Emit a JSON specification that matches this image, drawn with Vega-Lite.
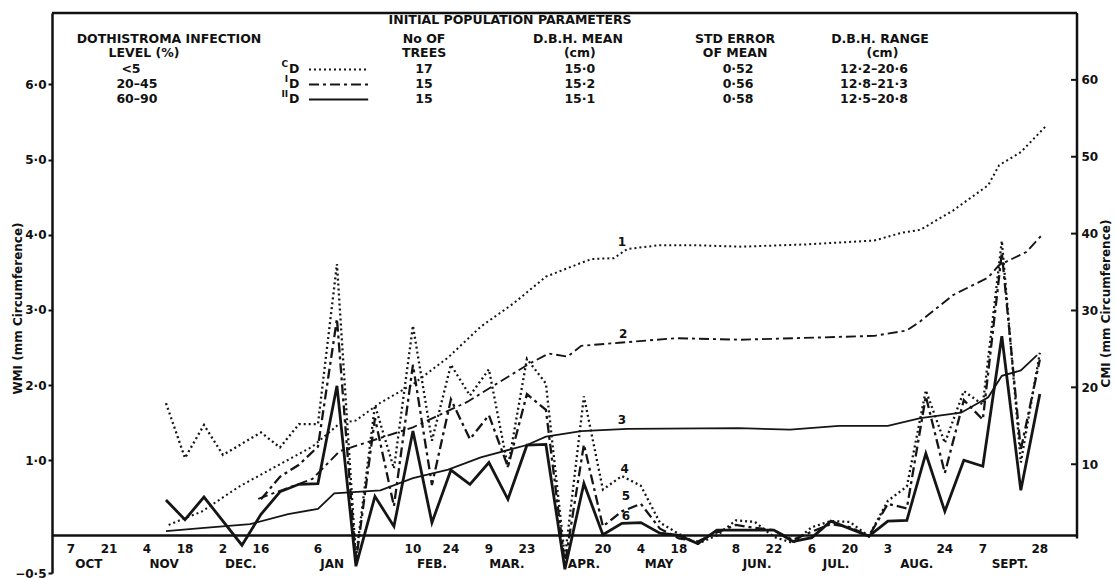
{
  "$schema": "https://vega.github.io/schema/vega-lite/v6.json",
  "width": 1025,
  "height": 560,
  "autosize": "none",
  "padding": {"left": 52, "top": 13, "right": 39, "bottom": 6},
  "background": "white",
  "config": {"view": {"stroke": null}, "font": "DejaVu Sans"},
  "datasets": {
    "wmi": [
      {"day": 42, "treatment": "CD", "WMI": 1.76}, {"day": 49, "treatment": "CD", "WMI": 1.03}, {"day": 56, "treatment": "CD", "WMI": 1.47}, {"day": 63, "treatment": "CD", "WMI": 1.07}, {"day": 77, "treatment": "CD", "WMI": 1.37}, {"day": 84, "treatment": "CD", "WMI": 1.17}, {"day": 91, "treatment": "CD", "WMI": 1.48}, {"day": 98, "treatment": "CD", "WMI": 1.48}, {"day": 105, "treatment": "CD", "WMI": 3.61}, {"day": 112, "treatment": "CD", "WMI": -0.30}, {"day": 119, "treatment": "CD", "WMI": 1.73}, {"day": 126, "treatment": "CD", "WMI": 0.89}, {"day": 133, "treatment": "CD", "WMI": 2.79}, {"day": 140, "treatment": "CD", "WMI": 1.26}, {"day": 147, "treatment": "CD", "WMI": 2.27}, {"day": 154, "treatment": "CD", "WMI": 1.86}, {"day": 161, "treatment": "CD", "WMI": 2.21}, {"day": 168, "treatment": "CD", "WMI": 0.91}, {"day": 175, "treatment": "CD", "WMI": 2.35}, {"day": 182, "treatment": "CD", "WMI": 2.02}, {"day": 189, "treatment": "CD", "WMI": -0.30}, {"day": 196, "treatment": "CD", "WMI": 1.85}, {"day": 203, "treatment": "CD", "WMI": 0.61}, {"day": 210, "treatment": "CD", "WMI": 0.79}, {"day": 217, "treatment": "CD", "WMI": 0.66}, {"day": 224, "treatment": "CD", "WMI": 0.17}, {"day": 231, "treatment": "CD", "WMI": 0.02}, {"day": 238, "treatment": "CD", "WMI": -0.11}, {"day": 245, "treatment": "CD", "WMI": 0.00}, {"day": 252, "treatment": "CD", "WMI": 0.20}, {"day": 259, "treatment": "CD", "WMI": 0.18}, {"day": 266, "treatment": "CD", "WMI": -0.02}, {"day": 273, "treatment": "CD", "WMI": -0.10}, {"day": 280, "treatment": "CD", "WMI": 0.11}, {"day": 287, "treatment": "CD", "WMI": 0.19}, {"day": 294, "treatment": "CD", "WMI": 0.18}, {"day": 301, "treatment": "CD", "WMI": -0.01}, {"day": 308, "treatment": "CD", "WMI": 0.46}, {"day": 315, "treatment": "CD", "WMI": 0.65}, {"day": 322, "treatment": "CD", "WMI": 1.93}, {"day": 329, "treatment": "CD", "WMI": 1.23}, {"day": 336, "treatment": "CD", "WMI": 1.92}, {"day": 343, "treatment": "CD", "WMI": 1.74}, {"day": 350, "treatment": "CD", "WMI": 3.92}, {"day": 357, "treatment": "CD", "WMI": 0.97}, {"day": 364, "treatment": "CD", "WMI": 2.43},
      {"day": 77, "treatment": "ID", "WMI": 0.48}, {"day": 84, "treatment": "ID", "WMI": 0.78}, {"day": 91, "treatment": "ID", "WMI": 0.94}, {"day": 98, "treatment": "ID", "WMI": 1.18}, {"day": 105, "treatment": "ID", "WMI": 2.88}, {"day": 112, "treatment": "ID", "WMI": -0.35}, {"day": 119, "treatment": "ID", "WMI": 1.56}, {"day": 126, "treatment": "ID", "WMI": 0.39}, {"day": 133, "treatment": "ID", "WMI": 2.27}, {"day": 140, "treatment": "ID", "WMI": 0.67}, {"day": 147, "treatment": "ID", "WMI": 1.81}, {"day": 154, "treatment": "ID", "WMI": 1.28}, {"day": 161, "treatment": "ID", "WMI": 1.60}, {"day": 168, "treatment": "ID", "WMI": 0.91}, {"day": 175, "treatment": "ID", "WMI": 1.88}, {"day": 182, "treatment": "ID", "WMI": 1.67}, {"day": 189, "treatment": "ID", "WMI": -0.38}, {"day": 196, "treatment": "ID", "WMI": 1.21}, {"day": 203, "treatment": "ID", "WMI": 0.12}, {"day": 210, "treatment": "ID", "WMI": 0.32}, {"day": 217, "treatment": "ID", "WMI": 0.42}, {"day": 224, "treatment": "ID", "WMI": 0.09}, {"day": 231, "treatment": "ID", "WMI": -0.04}, {"day": 238, "treatment": "ID", "WMI": -0.08}, {"day": 245, "treatment": "ID", "WMI": 0.04}, {"day": 252, "treatment": "ID", "WMI": 0.14}, {"day": 259, "treatment": "ID", "WMI": 0.10}, {"day": 266, "treatment": "ID", "WMI": 0.07}, {"day": 273, "treatment": "ID", "WMI": -0.06}, {"day": 280, "treatment": "ID", "WMI": 0.05}, {"day": 287, "treatment": "ID", "WMI": 0.15}, {"day": 294, "treatment": "ID", "WMI": 0.11}, {"day": 301, "treatment": "ID", "WMI": -0.01}, {"day": 308, "treatment": "ID", "WMI": 0.42}, {"day": 315, "treatment": "ID", "WMI": 0.36}, {"day": 322, "treatment": "ID", "WMI": 1.85}, {"day": 329, "treatment": "ID", "WMI": 0.83}, {"day": 336, "treatment": "ID", "WMI": 1.80}, {"day": 343, "treatment": "ID", "WMI": 1.54}, {"day": 350, "treatment": "ID", "WMI": 3.76}, {"day": 357, "treatment": "ID", "WMI": 1.14}, {"day": 364, "treatment": "ID", "WMI": 2.34},
      {"day": 42, "treatment": "IID", "WMI": 0.47}, {"day": 49, "treatment": "IID", "WMI": 0.21}, {"day": 56, "treatment": "IID", "WMI": 0.51}, {"day": 70, "treatment": "IID", "WMI": -0.13}, {"day": 77, "treatment": "IID", "WMI": 0.28}, {"day": 84, "treatment": "IID", "WMI": 0.58}, {"day": 91, "treatment": "IID", "WMI": 0.68}, {"day": 98, "treatment": "IID", "WMI": 0.69}, {"day": 105, "treatment": "IID", "WMI": 1.99}, {"day": 112, "treatment": "IID", "WMI": -0.41}, {"day": 119, "treatment": "IID", "WMI": 0.52}, {"day": 126, "treatment": "IID", "WMI": 0.12}, {"day": 133, "treatment": "IID", "WMI": 1.39}, {"day": 140, "treatment": "IID", "WMI": 0.17}, {"day": 147, "treatment": "IID", "WMI": 0.87}, {"day": 154, "treatment": "IID", "WMI": 0.68}, {"day": 161, "treatment": "IID", "WMI": 0.97}, {"day": 168, "treatment": "IID", "WMI": 0.48}, {"day": 175, "treatment": "IID", "WMI": 1.20}, {"day": 182, "treatment": "IID", "WMI": 1.21}, {"day": 189, "treatment": "IID", "WMI": -0.45}, {"day": 196, "treatment": "IID", "WMI": 0.69}, {"day": 203, "treatment": "IID", "WMI": 0.01}, {"day": 210, "treatment": "IID", "WMI": 0.16}, {"day": 217, "treatment": "IID", "WMI": 0.17}, {"day": 224, "treatment": "IID", "WMI": 0.03}, {"day": 231, "treatment": "IID", "WMI": 0.00}, {"day": 238, "treatment": "IID", "WMI": -0.11}, {"day": 245, "treatment": "IID", "WMI": 0.07}, {"day": 252, "treatment": "IID", "WMI": 0.07}, {"day": 259, "treatment": "IID", "WMI": 0.07}, {"day": 266, "treatment": "IID", "WMI": 0.07}, {"day": 273, "treatment": "IID", "WMI": -0.08}, {"day": 280, "treatment": "IID", "WMI": -0.03}, {"day": 287, "treatment": "IID", "WMI": 0.19}, {"day": 294, "treatment": "IID", "WMI": 0.09}, {"day": 301, "treatment": "IID", "WMI": -0.01}, {"day": 308, "treatment": "IID", "WMI": 0.19}, {"day": 315, "treatment": "IID", "WMI": 0.20}, {"day": 322, "treatment": "IID", "WMI": 1.09}, {"day": 329, "treatment": "IID", "WMI": 0.32}, {"day": 336, "treatment": "IID", "WMI": 1.00}, {"day": 343, "treatment": "IID", "WMI": 0.92}, {"day": 350, "treatment": "IID", "WMI": 2.65}, {"day": 357, "treatment": "IID", "WMI": 0.60}, {"day": 364, "treatment": "IID", "WMI": 1.88}
    ],
    "cmi": [
      {"day": 43, "treatment": "CD", "CMI": 2.1}, {"day": 49, "treatment": "CD", "CMI": 3.0}, {"day": 55, "treatment": "CD", "CMI": 3.8}, {"day": 69, "treatment": "CD", "CMI": 7.1}, {"day": 84, "treatment": "CD", "CMI": 10.0}, {"day": 96, "treatment": "CD", "CMI": 12.3}, {"day": 106, "treatment": "CD", "CMI": 15.3}, {"day": 112, "treatment": "CD", "CMI": 15.7}, {"day": 121, "treatment": "CD", "CMI": 18.0}, {"day": 133, "treatment": "CD", "CMI": 20.4}, {"day": 146, "treatment": "CD", "CMI": 23.9}, {"day": 158, "treatment": "CD", "CMI": 27.9}, {"day": 170, "treatment": "CD", "CMI": 30.9}, {"day": 182, "treatment": "CD", "CMI": 34.4}, {"day": 195, "treatment": "CD", "CMI": 36.2}, {"day": 199, "treatment": "CD", "CMI": 36.7}, {"day": 207, "treatment": "CD", "CMI": 36.8}, {"day": 212, "treatment": "CD", "CMI": 38.0}, {"day": 224, "treatment": "CD", "CMI": 38.5}, {"day": 236, "treatment": "CD", "CMI": 38.5}, {"day": 254, "treatment": "CD", "CMI": 38.3}, {"day": 278, "treatment": "CD", "CMI": 38.6}, {"day": 303, "treatment": "CD", "CMI": 39.1}, {"day": 313, "treatment": "CD", "CMI": 40.1}, {"day": 320, "treatment": "CD", "CMI": 40.5}, {"day": 332, "treatment": "CD", "CMI": 43.0}, {"day": 345, "treatment": "CD", "CMI": 46.3}, {"day": 349, "treatment": "CD", "CMI": 48.9}, {"day": 357, "treatment": "CD", "CMI": 50.6}, {"day": 366, "treatment": "CD", "CMI": 53.9},
      {"day": 76, "treatment": "ID", "CMI": 5.5}, {"day": 96, "treatment": "ID", "CMI": 8.1}, {"day": 106, "treatment": "ID", "CMI": 11.7}, {"day": 133, "treatment": "ID", "CMI": 14.8}, {"day": 153, "treatment": "ID", "CMI": 18.1}, {"day": 164, "treatment": "ID", "CMI": 20.5}, {"day": 176, "treatment": "ID", "CMI": 23.1}, {"day": 183, "treatment": "ID", "CMI": 24.4}, {"day": 190, "treatment": "ID", "CMI": 24.0}, {"day": 195, "treatment": "ID", "CMI": 25.4}, {"day": 209, "treatment": "ID", "CMI": 25.8}, {"day": 230, "treatment": "ID", "CMI": 26.4}, {"day": 254, "treatment": "ID", "CMI": 26.2}, {"day": 284, "treatment": "ID", "CMI": 26.5}, {"day": 303, "treatment": "ID", "CMI": 26.7}, {"day": 315, "treatment": "ID", "CMI": 27.4}, {"day": 320, "treatment": "ID", "CMI": 28.6}, {"day": 332, "treatment": "ID", "CMI": 32.0}, {"day": 345, "treatment": "ID", "CMI": 34.3}, {"day": 349, "treatment": "ID", "CMI": 35.9}, {"day": 359, "treatment": "ID", "CMI": 37.6}, {"day": 365, "treatment": "ID", "CMI": 39.9},
      {"day": 42, "treatment": "IID", "CMI": 1.3}, {"day": 55, "treatment": "IID", "CMI": 1.7}, {"day": 73, "treatment": "IID", "CMI": 2.2}, {"day": 87, "treatment": "IID", "CMI": 3.5}, {"day": 98, "treatment": "IID", "CMI": 4.2}, {"day": 104, "treatment": "IID", "CMI": 6.2}, {"day": 121, "treatment": "IID", "CMI": 6.6}, {"day": 133, "treatment": "IID", "CMI": 8.2}, {"day": 146, "treatment": "IID", "CMI": 9.3}, {"day": 158, "treatment": "IID", "CMI": 10.9}, {"day": 175, "treatment": "IID", "CMI": 12.5}, {"day": 182, "treatment": "IID", "CMI": 13.6}, {"day": 195, "treatment": "IID", "CMI": 14.3}, {"day": 212, "treatment": "IID", "CMI": 14.6}, {"day": 253, "treatment": "IID", "CMI": 14.7}, {"day": 272, "treatment": "IID", "CMI": 14.5}, {"day": 290, "treatment": "IID", "CMI": 15.0}, {"day": 308, "treatment": "IID", "CMI": 15.0}, {"day": 320, "treatment": "IID", "CMI": 16.0}, {"day": 335, "treatment": "IID", "CMI": 16.7}, {"day": 345, "treatment": "IID", "CMI": 18.7}, {"day": 350, "treatment": "IID", "CMI": 21.5}, {"day": 357, "treatment": "IID", "CMI": 22.2}, {"day": 363, "treatment": "IID", "CMI": 24.2}
    ],
    "cmiticks": [{"CMI": 10}, {"CMI": 20}, {"CMI": 30}, {"CMI": 40}, {"CMI": 50}, {"CMI": 60}],
    "daylabels": [
      {"day": 7, "label": "7"}, {"day": 21, "label": "21"}, {"day": 35, "label": "4"}, {"day": 49, "label": "18"}, {"day": 63, "label": "2"}, {"day": 77, "label": "16"}, {"day": 98, "label": "6"}, {"day": 133, "label": "10"}, {"day": 147, "label": "24"}, {"day": 161, "label": "9"}, {"day": 175, "label": "23"}, {"day": 203, "label": "20"}, {"day": 217, "label": "4"}, {"day": 231, "label": "18"}, {"day": 252, "label": "8"}, {"day": 266, "label": "22"}, {"day": 280, "label": "6"}, {"day": 294, "label": "20"}, {"day": 308, "label": "3"}, {"day": 329, "label": "24"}, {"day": 343, "label": "7"}, {"day": 364, "label": "28"}
    ],
    "months": [
      {"day": 13.6, "label": "OCT"}, {"day": 41.3, "label": "NOV"}, {"day": 69.6, "label": "DEC."}, {"day": 103.2, "label": "JAN"}, {"day": 140, "label": "FEB."}, {"day": 167.6, "label": "MAR."}, {"day": 196, "label": "APR."}, {"day": 223.7, "label": "MAY"}, {"day": 259.8, "label": "JUN."}, {"day": 288.9, "label": "JUL."}, {"day": 318.7, "label": "AUG."}, {"day": 353, "label": "SEPT."}
    ],
    "curvelabels": [
      {"day": 210, "wmi": 3.91, "label": "1"}, {"day": 210.5, "wmi": 2.68, "label": "2"}, {"day": 210, "wmi": 1.54, "label": "3"}, {"day": 211, "wmi": 0.88, "label": "4"}, {"day": 211.5, "wmi": 0.52, "label": "5"}, {"day": 211.5, "wmi": 0.26, "label": "6"}
    ],
    "headertext": [
      {"text": "INITIAL POPULATION PARAMETERS", "day": 168.8, "wmi": 6.86},
      {"text": "DOTHISTROMA INFECTION", "day": 43.1, "wmi": 6.61},
      {"text": "LEVEL (%)", "day": 33.9, "wmi": 6.42},
      {"text": "<5", "day": 29.1, "wmi": 6.20},
      {"text": "20–45", "day": 31.3, "wmi": 6.00},
      {"text": "60–90", "day": 31.3, "wmi": 5.80},
      {"text": "No OF", "day": 137.1, "wmi": 6.61},
      {"text": "TREES", "day": 137.1, "wmi": 6.42},
      {"text": "17", "day": 137.1, "wmi": 6.20},
      {"text": "15", "day": 137.1, "wmi": 6.00},
      {"text": "15", "day": 137.1, "wmi": 5.80},
      {"text": "D.B.H. MEAN", "day": 193.8, "wmi": 6.61},
      {"text": "(cm)", "day": 194.5, "wmi": 6.42},
      {"text": "15·0", "day": 194.5, "wmi": 6.20},
      {"text": "15·2", "day": 194.5, "wmi": 6.00},
      {"text": "15·1", "day": 194.5, "wmi": 5.80},
      {"text": "STD ERROR", "day": 251.7, "wmi": 6.61},
      {"text": "OF MEAN", "day": 251.7, "wmi": 6.42},
      {"text": "0·52", "day": 252.8, "wmi": 6.20},
      {"text": "0·56", "day": 252.8, "wmi": 6.00},
      {"text": "0·58", "day": 252.8, "wmi": 5.80},
      {"text": "D.B.H. RANGE", "day": 305.1, "wmi": 6.61},
      {"text": "(cm)", "day": 306, "wmi": 6.42},
      {"text": "12·2–20·6", "day": 302.9, "wmi": 6.20},
      {"text": "12·8–21·3", "day": 302.9, "wmi": 6.00},
      {"text": "12·5–20·8", "day": 302.9, "wmi": 5.80}
    ],
    "keyrows": [
      {"treatment": "CD", "prefix": "C", "day": 87.0, "lineStart": 94.7, "lineEnd": 116.5, "wmi": 6.20},
      {"treatment": "ID", "prefix": "I", "day": 87.0, "lineStart": 94.7, "lineEnd": 116.5, "wmi": 6.00},
      {"treatment": "IID", "prefix": "II", "day": 87.0, "lineStart": 94.7, "lineEnd": 116.5, "wmi": 5.80}
    ],
    "frame": [
      {"day": 0, "day2": 377.7, "wmi": 0, "wmi2": 0},
      {"day": 0, "day2": 377.7, "wmi": 6.95, "wmi2": 6.95},
      {"day": 377.7, "day2": 377.7, "wmi": -0.04, "wmi2": 6.95}
    ]
  },
  "layer": [
    {
      "layer": [
        {
          "data": {"name": "wmi"},
          "transform": [{"filter": "datum.treatment === 'IID'"}],
          "mark": {"type": "line", "strokeWidth": 2.8, "color": "#151515", "strokeJoin": "miter"},
          "encoding": {
            "x": {"field": "day", "type": "quantitative", "scale": {"domain": [0, 377.7], "nice": false, "zero": false}, "axis": null},
            "y": {
              "field": "WMI", "type": "quantitative",
              "scale": {"domain": [-0.5, 6.95], "nice": false, "zero": false},
              "axis": {
                "orient": "left", "values": [-0.5, 1, 2, 3, 4, 5, 6],
                "labelExpr": "replace(format(datum.value, '.1f'), '.', '·')",
                "title": "WMI (mm Circumference)", "titleFont": "DejaVu Sans", "titleFontWeight": "bold", "titleFontSize": 12, "titleColor": "#111",
                "titleAngle": 270, "titleX": -35, "titleY": 295, "titleBaseline": "middle", "titleAlign": "center",
                "labelFont": "DejaVu Sans", "labelFontSize": 12, "labelFontWeight": "bold", "labelColor": "#111", "labelPadding": 2,
                "tickSize": 4, "tickWidth": 2, "tickColor": "#111", "domainWidth": 2.5, "domainColor": "#111", "grid": false, "labelFlush": false, "labelOverlap": false
              }
            }
          }
        },
        {
          "data": {"name": "wmi"},
          "transform": [{"filter": "datum.treatment === 'ID'"}],
          "mark": {"type": "line", "strokeWidth": 2.3, "color": "#151515", "strokeDash": [10, 4, 3, 4], "strokeJoin": "miter"},
          "encoding": {
            "x": {"field": "day", "type": "quantitative"},
            "y": {"field": "WMI", "type": "quantitative"}
          }
        },
        {
          "data": {"name": "wmi"},
          "transform": [{"filter": "datum.treatment === 'CD'"}],
          "mark": {"type": "line", "strokeWidth": 2.3, "color": "#151515", "strokeDash": [2, 3], "strokeJoin": "miter"},
          "encoding": {
            "x": {"field": "day", "type": "quantitative"},
            "y": {"field": "WMI", "type": "quantitative"}
          }
        },
        {
          "data": {"name": "frame"},
          "mark": {"type": "rule", "strokeWidth": 2.5, "color": "#111"},
          "encoding": {
            "x": {"field": "day", "type": "quantitative"}, "x2": {"field": "day2"},
            "y": {"field": "wmi", "type": "quantitative"}, "y2": {"field": "wmi2"}
          }
        },
        {
          "data": {"name": "daylabels"},
          "mark": {"type": "text", "font": "DejaVu Sans", "fontWeight": "bold", "fontSize": 12, "color": "#111", "align": "center", "baseline": "middle", "dy": 14},
          "encoding": {"x": {"field": "day", "type": "quantitative"}, "y": {"datum": 0, "type": "quantitative"}, "text": {"field": "label"}}
        },
        {
          "data": {"name": "months"},
          "mark": {"type": "text", "font": "DejaVu Sans", "fontWeight": "bold", "fontSize": 12, "color": "#111", "align": "center", "baseline": "middle", "dy": 29},
          "encoding": {"x": {"field": "day", "type": "quantitative"}, "y": {"datum": 0, "type": "quantitative"}, "text": {"field": "label"}}
        },
        {
          "data": {"name": "curvelabels"},
          "mark": {"type": "text", "font": "DejaVu Sans", "fontWeight": "bold", "fontSize": 12, "color": "#111", "align": "center", "baseline": "middle"},
          "encoding": {"x": {"field": "day", "type": "quantitative"}, "y": {"field": "wmi", "type": "quantitative"}, "text": {"field": "label"}}
        },
        {
          "data": {"name": "headertext"},
          "mark": {"type": "text", "font": "DejaVu Sans", "fontWeight": "bold", "fontSize": 12.5, "color": "#111", "align": "center", "baseline": "middle"},
          "encoding": {"x": {"field": "day", "type": "quantitative"}, "y": {"field": "wmi", "type": "quantitative"}, "text": {"field": "text"}}
        },
        {
          "data": {"name": "keyrows"},
          "mark": {"type": "text", "font": "DejaVu Sans", "fontWeight": "bold", "fontSize": 9, "color": "#111", "align": "right", "baseline": "middle", "dy": -5},
          "encoding": {"x": {"field": "day", "type": "quantitative"}, "y": {"field": "wmi", "type": "quantitative"}, "text": {"field": "prefix"}}
        },
        {
          "data": {"name": "keyrows"},
          "mark": {"type": "text", "font": "DejaVu Sans", "fontWeight": "bold", "fontSize": 12.5, "color": "#111", "align": "left", "baseline": "middle", "dx": 1},
          "encoding": {"x": {"field": "day", "type": "quantitative"}, "y": {"field": "wmi", "type": "quantitative"}, "text": {"value": "D"}}
        },
        {
          "data": {"name": "keyrows"},
          "transform": [{"filter": "datum.treatment === 'CD'"}],
          "mark": {"type": "rule", "strokeWidth": 2, "color": "#151515", "strokeDash": [2, 3]},
          "encoding": {"x": {"field": "lineStart", "type": "quantitative"}, "x2": {"field": "lineEnd"}, "y": {"field": "wmi", "type": "quantitative"}}
        },
        {
          "data": {"name": "keyrows"},
          "transform": [{"filter": "datum.treatment === 'ID'"}],
          "mark": {"type": "rule", "strokeWidth": 2, "color": "#151515", "strokeDash": [10, 4, 3, 4]},
          "encoding": {"x": {"field": "lineStart", "type": "quantitative"}, "x2": {"field": "lineEnd"}, "y": {"field": "wmi", "type": "quantitative"}}
        },
        {
          "data": {"name": "keyrows"},
          "transform": [{"filter": "datum.treatment === 'IID'"}],
          "mark": {"type": "rule", "strokeWidth": 2, "color": "#151515"},
          "encoding": {"x": {"field": "lineStart", "type": "quantitative"}, "x2": {"field": "lineEnd"}, "y": {"field": "wmi", "type": "quantitative"}}
        }
      ]
    },
    {
      "layer": [
        {
          "data": {"name": "cmi"},
          "transform": [{"filter": "datum.treatment === 'IID'"}],
          "mark": {"type": "line", "strokeWidth": 1.8, "color": "#151515"},
          "encoding": {
            "x": {"field": "day", "type": "quantitative", "scale": {"domain": [0, 377.7], "nice": false, "zero": false}, "axis": null},
            "y": {
              "field": "CMI", "type": "quantitative",
              "scale": {"domain": [-4.15, 68.7], "nice": false, "zero": false},
              "axis": {
                "orient": "right", "values": [10, 20, 30, 40, 50, 60], "format": "d",
                "title": "CMI (mm Circumference)", "titleFont": "DejaVu Sans", "titleFontWeight": "bold", "titleFontSize": 12, "titleColor": "#111",
                "titleAngle": 270, "titleX": 28, "titleY": 290, "titleBaseline": "middle", "titleAlign": "center",
                "labelFont": "DejaVu Sans", "labelFontSize": 12, "labelFontWeight": "bold", "labelColor": "#111", "labelPadding": 4,
                "ticks": false, "domain": false, "grid": false, "labelFlush": false, "labelOverlap": false
              }
            }
          }
        },
        {
          "data": {"name": "cmi"},
          "transform": [{"filter": "datum.treatment === 'ID'"}],
          "mark": {"type": "line", "strokeWidth": 1.9, "color": "#151515", "strokeDash": [10, 4, 3, 4]},
          "encoding": {
            "x": {"field": "day", "type": "quantitative"},
            "y": {"field": "CMI", "type": "quantitative"}
          }
        },
        {
          "data": {"name": "cmi"},
          "transform": [{"filter": "datum.treatment === 'CD'"}],
          "mark": {"type": "line", "strokeWidth": 2, "color": "#151515", "strokeDash": [2, 3]},
          "encoding": {
            "x": {"field": "day", "type": "quantitative"},
            "y": {"field": "CMI", "type": "quantitative"}
          }
        },
        {
          "data": {"name": "cmiticks"},
          "mark": {"type": "rule", "strokeWidth": 2, "color": "#111"},
          "encoding": {
            "x": {"datum": 375.5, "type": "quantitative"}, "x2": {"datum": 377.7},
            "y": {"field": "CMI", "type": "quantitative"}
          }
        }
      ]
    }
  ],
  "resolve": {"scale": {"y": "independent"}}
}
